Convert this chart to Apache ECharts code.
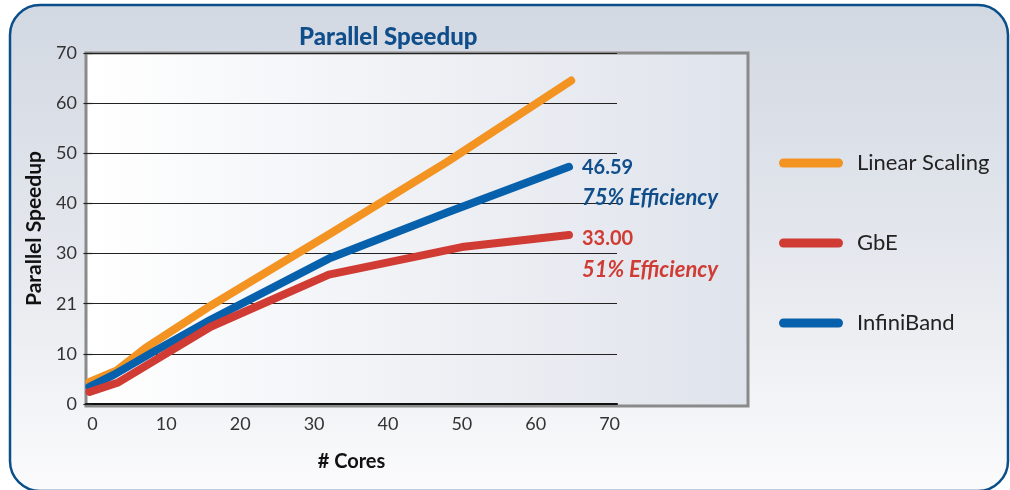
<!DOCTYPE html>
<html>
<head>
<meta charset="utf-8">
<script src="https://cdn.jsdelivr.net/npm/echarts@6/dist/echarts.min.js"></script>
<style>
  html, body { margin: 0; padding: 0; background: #fff; }
  #chart { width: 1010px; height: 490px; }
</style>
</head>
<body>
<div id="chart"></div>
<script>
// --- data ---
const xTicks = [0, 10, 20, 30, 40, 50, 60, 70];
const yTickLabels = ['0', '10', '21', '30', '40', '50', '60', '70'];

const linearCores = [-0.4, 3.3, 7.2, 16, 32, 48, 64.8];
const linearSpeedup = [4.4, 6.7, 11.2, 19.6, 33.8, 48.3, 64.5];

const ibCores = [-0.4, 3, 8, 16, 32, 48, 64.5];
const ibSpeedup = [3.4, 5.9, 10.2, 16.8, 29.0, 38.2, 47.3];

const gbeCores = [-0.4, 3.5, 8, 16, 32, 50, 64.5];
const gbeSpeedup = [2.4, 4.3, 8.3, 15.4, 25.8, 31.3, 33.7];

const ibEndValue = '46.59';
const ibEfficiency = '75% Efficiency';
const gbeEndValue = '33.00';
const gbeEfficiency = '51% Efficiency';

// --- styles ---
const FONT = 'Lato, "DejaVu Sans Condensed", sans-serif';
const ORANGE = '#f39322';
const BLUE = '#0760ab';
const RED = '#d03b33';
const NAVY = '#0f4e8a';

const pairs = (xs, ys) => xs.map((x, i) => [x, ys[i]]);

const chart = echarts.init(document.getElementById('chart'));

const lineSeries = (name, color, xs, ys, endLabel) => ({
  name,
  type: 'line',
  xAxisIndex: 1,
  yAxisIndex: 1,
  data: pairs(xs, ys),
  showSymbol: false,
  symbol: 'none',
  lineStyle: { color, width: 8, cap: 'round', join: 'round' },
  itemStyle: { color },
  emphasis: { disabled: true },
  endLabel: endLabel
});

// value + efficiency text next to the line end
const effLabel = (color, value, eff, dy) => ({
  show: true,
  distance: 13,
  offset: [0, dy],
  formatter: () => `{v|${value}}\n{e|${eff}}`,
  rich: {
    v: { fontFamily: FONT, fontWeight: 'bold', fontSize: 20, color, lineHeight: 31 },
    e: { fontFamily: FONT, fontWeight: 'bold', fontStyle: 'italic', fontSize: 22, color, lineHeight: 31 }
  }
});

const option = {
  animation: false,
  graphic: [{
    type: 'rect',
    z: -10,
    shape: { x: 10, y: 5, width: 998, height: 486, r: 30 },
    style: {
      fill: new echarts.graphic.LinearGradient(0, 0, 0, 1, [
        { offset: 0, color: '#d2d8e2' },
        { offset: 0.5, color: '#e4e7ed' },
        { offset: 1, color: '#fbfbfc' }
      ]),
      stroke: '#0b4f8a',
      lineWidth: 2.5
    }
  }],
  title: {
    text: 'Parallel Speedup',
    left: 294,
    top: 20,
    textStyle: { fontFamily: FONT, fontWeight: 900, fontSize: 24, color: NAVY }
  },
  legend: {
    orient: 'vertical',
    left: 774,
    top: 147,
    itemGap: 58,
    itemWidth: 64,
    itemHeight: 9,
    icon: 'path://M4.5,0H59.5A4.5,4.5,0,0,1,59.5,9H4.5A4.5,4.5,0,0,1,4.5,0Z',
    data: ['Linear Scaling', 'GbE', 'InfiniBand'],
    selectedMode: false,
    textStyle: { fontFamily: FONT, fontSize: 22, color: '#222', padding: [0, 0, 0, 9] }
  },
  grid: [
    {
      // plot box
      left: 86, right: 262, top: 53, bottom: 84,
      show: true,
      backgroundColor: new echarts.graphic.LinearGradient(0, 0, 1, 0, [
        { offset: 0, color: '#ffffff' },
        { offset: 1, color: '#dfe3eb' }
      ]),
      borderColor: '#8a8a8a',
      borderWidth: 3
    },
    {
      // data area
      left: 86, right: 393, top: 53, bottom: 86
    }
  ],
  xAxis: [
    { gridIndex: 0, type: 'value', show: false, min: 0, max: 1 },
    {
      gridIndex: 1,
      type: 'value',
      min: -0.87,
      max: 71,
      name: '# Cores',
      nameLocation: 'middle',
      nameGap: 48,
      nameTextStyle: { fontFamily: FONT, fontWeight: 'bold', fontSize: 20, color: '#111' },
      axisLine: { show: true, onZero: false, lineStyle: { color: '#111', width: 2 } },
      axisTick: { show: false },
      splitLine: { show: false },
      axisLabel: {
        customValues: xTicks,
        formatter: (v) => String(v),
        margin: 11,
        fontFamily: FONT,
        fontSize: 18,
        color: '#333'
      }
    }
  ],
  yAxis: [
    { gridIndex: 0, type: 'value', show: false, min: 0, max: 1 },
    {
      gridIndex: 1,
      type: 'value',
      min: 0,
      max: 70,
      interval: 10,
      name: 'Parallel Speedup',
      nameLocation: 'middle',
      nameGap: 32,
      nameTextStyle: { fontFamily: FONT, fontWeight: 'bold', fontSize: 21, color: '#111' },
      axisLine: { show: false },
      axisTick: { show: true, length: 9, lineStyle: { color: '#222', width: 1.2 } },
      splitLine: { show: true, lineStyle: { color: '#222', width: 1.2 } },
      axisLabel: {
        formatter: (v) => yTickLabels[Math.round(v / 10)],
        margin: 9,
        fontFamily: FONT,
        fontSize: 18,
        color: '#333'
      }
    }
  ],
  series: [
    lineSeries('Linear Scaling', ORANGE, linearCores, linearSpeedup, { show: false }),
    lineSeries('InfiniBand', BLUE, ibCores, ibSpeedup, effLabel(NAVY, ibEndValue, ibEfficiency, 16)),
    lineSeries('GbE', RED, gbeCores, gbeSpeedup, effLabel(RED, gbeEndValue, gbeEfficiency, 19))
  ]
};

chart.setOption(option);
</script>
</body>
</html>
